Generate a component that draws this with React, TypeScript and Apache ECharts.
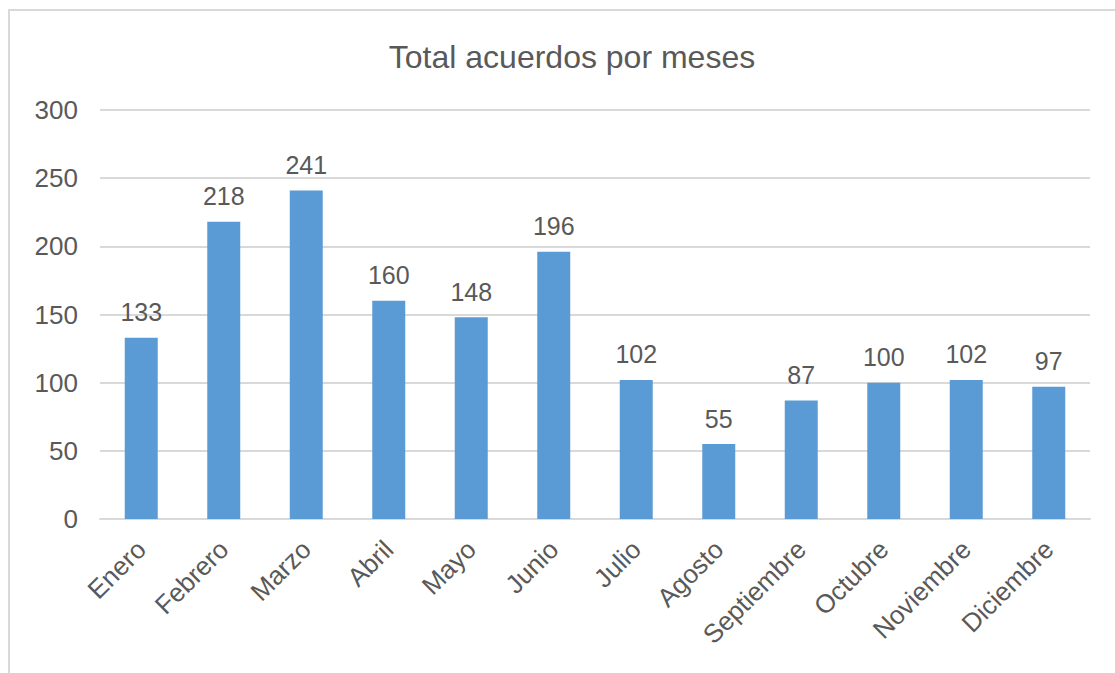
import React, { useEffect, useRef } from "react";
import * as echarts from "echarts";

const titleText = "Total acuerdos por meses";
const months = [
  "Enero", "Febrero", "Marzo", "Abril", "Mayo", "Junio",
  "Julio", "Agosto", "Septiembre", "Octubre", "Noviembre", "Diciembre",
];
const acuerdos = [133, 218, 241, 160, 148, 196, 102, 55, 87, 100, 102, 97];
const yMin = 0;
const yMax = 300;
const yStep = 50;

const FONT = "'Liberation Sans', Arial, sans-serif";
const TEXT = "#595959";

export default function App() {
  const ref = useRef<HTMLDivElement>(null);
  useEffect(() => {
    if (!ref.current) return;
    const chart = echarts.init(ref.current, undefined, { renderer: "svg" });
    chart.setOption({
      animation: false,
      backgroundColor: "#ffffff",
      graphic: [
        {
          type: "rect",
          shape: { x: 9, y: 10, width: 1200, height: 1000 },
          style: { fill: "none", stroke: "#d9d9d9", lineWidth: 2 },
          silent: true,
        },
      ],
      title: {
        text: titleText,
        left: 567,
        textAlign: "center",
        top: 36,
        textStyle: { fontFamily: FONT, fontSize: 32, fontWeight: "normal", color: TEXT },
      },
      grid: { left: 100, right: 25, top: 110, bottom: 154, containLabel: false },
      xAxis: {
        type: "category",
        data: months,
        axisLine: { show: true, lineStyle: { color: "#d9d9d9", width: 2 } },
        axisTick: { show: false },
        axisLabel: {
          rotate: 45,
          interval: 0,
          margin: 26,
          fontFamily: FONT,
          fontSize: 26,
          color: TEXT,
        },
      },
      yAxis: {
        type: "value",
        min: yMin,
        max: yMax,
        interval: yStep,
        axisLine: { show: false },
        axisTick: { show: false },
        splitLine: { lineStyle: { color: "#d9d9d9", width: 2 } },
        axisLabel: { margin: 22, fontFamily: FONT, fontSize: 26, color: TEXT },
      },
      series: [
        {
          type: "bar",
          data: acuerdos,
          barWidth: "40%",
          itemStyle: { color: "#5b9bd5" },
          label: {
            show: true,
            position: "top",
            distance: 13,
            fontFamily: FONT,
            fontSize: 25,
            color: TEXT,
          },
        },
      ],
    });
    return () => chart.dispose();
  }, []);
  return (
    <div
      ref={ref}
      style={{ position: "fixed", left: 0, top: 0, width: 1115, height: 673 }}
    />
  );
}
